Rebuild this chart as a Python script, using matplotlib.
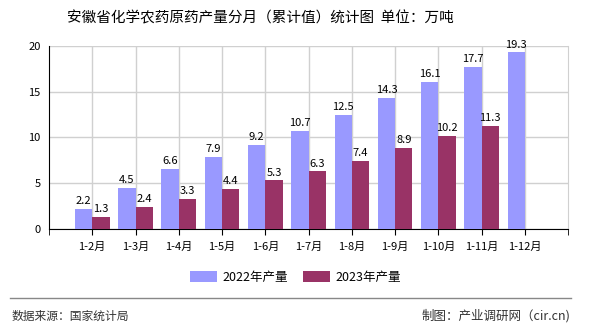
import matplotlib
matplotlib.use("Agg")
import matplotlib.pyplot as plt
import numpy as np

plt.rcParams['font.family'] = ['Noto Sans CJK SC', 'DejaVu Sans']

months = ['1-2月', '1-3月', '1-4月', '1-5月', '1-6月', '1-7月', '1-8月',
          '1-9月', '1-10月', '1-11月', '1-12月']
v2022 = [2.2, 4.5, 6.6, 7.9, 9.2, 10.7, 12.5, 14.3, 16.1, 17.7, 19.3]
v2023 = [1.3, 2.4, 3.3, 4.4, 5.3, 6.3, 7.4, 8.9, 10.2, 11.3]

fig = plt.figure(figsize=(5.9, 3.3), dpi=100)
ax = fig.add_axes([0.083, 0.306, 0.88, 0.555])

x = np.arange(len(months))
w = 0.4
b1 = ax.bar(x[:len(v2022)] - w / 2, v2022, w, color='#9999FF', label='2022年产量', zorder=3)
b2 = ax.bar(x[:len(v2023)] + w / 2, v2023, w, color='#993366', label='2023年产量', zorder=3)
ax.bar_label(b1, fmt='%.1f', padding=2, fontsize=8)
ax.bar_label(b2, fmt='%.1f', padding=2, fontsize=8)

ax.set_xlim(-1, 11)
ax.set_ylim(0, 20)
ax.set_yticks([0, 5, 10, 15, 20])
ax.set_xticks(x)
ax.set_xticklabels(months, fontsize=8)
ax.tick_params(axis='y', labelsize=8, length=0, pad=6)
ax.tick_params(axis='x', length=4, direction='out', pad=5)
ax.set_xticks(list(x) + [-1, 11], minor=True)
ax.tick_params(axis='x', which='minor', length=4)
ax.grid(True, color='#d0d0d0', linewidth=1, zorder=0)
ax.spines['top'].set_visible(False)
ax.spines['right'].set_color('#d0d0d0')
ax.spines['left'].set_color('black')
ax.spines['bottom'].set_color('black')

fig.text(0.442, 0.945, '安徽省化学农药原药产量分月（累计值）统计图  单位：万吨',
         ha='center', va='center', fontsize=10.5)
fig.legend(loc='center', bbox_to_anchor=(0.5, 0.16), ncol=2, frameon=False,
           fontsize=9, handlelength=2.2, handleheight=0.9, columnspacing=1.2,
           handletextpad=0.4)

fig.add_artist(plt.Line2D([0.017, 0.968], [0.097, 0.097], color='#888888', linewidth=1))
fig.text(0.02, 0.042, '数据来源：国家统计局', fontsize=8.5, color='#333333', va='center')
fig.text(0.966, 0.042, '制图：产业调研网（cir.cn)', fontsize=9, color='#333333',
         va='center', ha='right')

fig.savefig('out.png', dpi=100)
